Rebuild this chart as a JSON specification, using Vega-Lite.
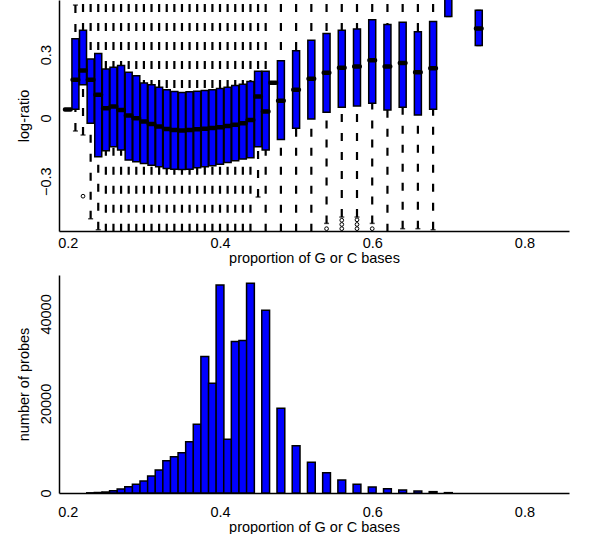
{
  "$schema": "https://vega.github.io/schema/vega-lite/v6.json",
  "background": "white",
  "padding": {"left": 16, "top": 0, "right": 5, "bottom": 0},
  "config": {
    "font": "Liberation Sans",
    "view": {"stroke": null},
    "axis": {
      "labelFont": "Liberation Sans",
      "titleFont": "Liberation Sans",
      "labelFontSize": 14.5,
      "titleFontSize": 14.5,
      "titleFontWeight": "normal",
      "labelColor": "black",
      "titleColor": "black",
      "domainColor": "black",
      "domainWidth": 1.5,
      "ticks": false,
      "grid": false
    }
  },
  "datasets": {
    "boxes": [
      {"gc": 0.20, "lo": 0.04, "q1": 0.04, "med": 0.04, "q3": 0.04, "hi": 0.04},
      {"gc": 0.21, "lo": -0.062, "q1": 0.041, "med": 0.181, "q3": 0.375, "hi": 0.535},
      {"gc": 0.22, "lo": -0.081, "q1": 0.157, "med": 0.225, "q3": 0.416, "hi": 0.72},
      {"gc": 0.23, "lo": -0.478, "q1": -0.025, "med": 0.181, "q3": 0.279, "hi": 0.72},
      {"gc": 0.24, "lo": -0.53, "q1": -0.184, "med": 0.110, "q3": 0.305, "hi": 0.72},
      {"gc": 0.25, "lo": -0.72, "q1": -0.156, "med": 0.046, "q3": 0.232, "hi": 0.72},
      {"gc": 0.26, "lo": -0.72, "q1": -0.137, "med": 0.054, "q3": 0.240, "hi": 0.72},
      {"gc": 0.27, "lo": -0.72, "q1": -0.152, "med": 0.038, "q3": 0.248, "hi": 0.72},
      {"gc": 0.28, "lo": -0.72, "q1": -0.200, "med": 0.011, "q3": 0.216, "hi": 0.72},
      {"gc": 0.29, "lo": -0.72, "q1": -0.208, "med": -0.002, "q3": 0.200, "hi": 0.72},
      {"gc": 0.30, "lo": -0.72, "q1": -0.216, "med": -0.017, "q3": 0.165, "hi": 0.72},
      {"gc": 0.31, "lo": -0.72, "q1": -0.224, "med": -0.029, "q3": 0.157, "hi": 0.72},
      {"gc": 0.32, "lo": -0.72, "q1": -0.232, "med": -0.041, "q3": 0.146, "hi": 0.72},
      {"gc": 0.33, "lo": -0.72, "q1": -0.240, "med": -0.052, "q3": 0.133, "hi": 0.72},
      {"gc": 0.34, "lo": -0.72, "q1": -0.243, "med": -0.057, "q3": 0.125, "hi": 0.72},
      {"gc": 0.35, "lo": -0.72, "q1": -0.244, "med": -0.060, "q3": 0.121, "hi": 0.72},
      {"gc": 0.36, "lo": -0.72, "q1": -0.243, "med": -0.057, "q3": 0.124, "hi": 0.72},
      {"gc": 0.37, "lo": -0.72, "q1": -0.236, "med": -0.054, "q3": 0.127, "hi": 0.72},
      {"gc": 0.38, "lo": -0.72, "q1": -0.232, "med": -0.051, "q3": 0.130, "hi": 0.72},
      {"gc": 0.39, "lo": -0.72, "q1": -0.227, "med": -0.048, "q3": 0.133, "hi": 0.72},
      {"gc": 0.40, "lo": -0.72, "q1": -0.219, "med": -0.044, "q3": 0.140, "hi": 0.72},
      {"gc": 0.41, "lo": -0.72, "q1": -0.211, "med": -0.038, "q3": 0.146, "hi": 0.72},
      {"gc": 0.42, "lo": -0.72, "q1": -0.203, "med": -0.032, "q3": 0.154, "hi": 0.72},
      {"gc": 0.43, "lo": -0.72, "q1": -0.195, "med": -0.025, "q3": 0.160, "hi": 0.72},
      {"gc": 0.44, "lo": -0.72, "q1": -0.189, "med": -0.010, "q3": 0.173, "hi": 0.72},
      {"gc": 0.45, "lo": -0.375, "q1": -0.137, "med": 0.102, "q3": 0.221, "hi": 0.72},
      {"gc": 0.46, "lo": -0.72, "q1": -0.152, "med": 0.030, "q3": 0.221, "hi": 0.72},
      {"gc": 0.47, "lo": 0.167, "q1": 0.167, "med": 0.167, "q3": 0.167, "hi": 0.167},
      {"gc": 0.48, "lo": -0.72, "q1": -0.102, "med": 0.081, "q3": 0.271, "hi": 0.72},
      {"gc": 0.50, "lo": -0.72, "q1": -0.049, "med": 0.133, "q3": 0.319, "hi": 0.72},
      {"gc": 0.52, "lo": -0.72, "q1": -0.005, "med": 0.186, "q3": 0.368, "hi": 0.72},
      {"gc": 0.54, "lo": -0.50, "q1": 0.027, "med": 0.214, "q3": 0.400, "hi": 0.72},
      {"gc": 0.56, "lo": -0.47, "q1": 0.051, "med": 0.238, "q3": 0.416, "hi": 0.72},
      {"gc": 0.58, "lo": -0.47, "q1": 0.057, "med": 0.244, "q3": 0.422, "hi": 0.72},
      {"gc": 0.60, "lo": -0.50, "q1": 0.070, "med": 0.273, "q3": 0.465, "hi": 0.72},
      {"gc": 0.62, "lo": -0.72, "q1": 0.038, "med": 0.244, "q3": 0.443, "hi": 0.72},
      {"gc": 0.64, "lo": -0.525, "q1": 0.051, "med": 0.260, "q3": 0.454, "hi": 0.72},
      {"gc": 0.66, "lo": -0.525, "q1": 0.014, "med": 0.217, "q3": 0.408, "hi": 0.72},
      {"gc": 0.68, "lo": -0.53, "q1": 0.041, "med": 0.236, "q3": 0.457, "hi": 0.72},
      {"gc": 0.70, "lo": 0.481, "q1": 0.481, "med": 0.58, "q3": 0.62, "hi": 0.62},
      {"gc": 0.74, "lo": 0.343, "q1": 0.343, "med": 0.424, "q3": 0.51, "hi": 0.51}
    ],
    "outliers": [
      {"gc": 0.22, "val": -0.371},
      {"gc": 0.54, "val": -0.525},
      {"gc": 0.56, "val": -0.485},
      {"gc": 0.56, "val": -0.505},
      {"gc": 0.56, "val": -0.525},
      {"gc": 0.58, "val": -0.483},
      {"gc": 0.58, "val": -0.505},
      {"gc": 0.58, "val": -0.525},
      {"gc": 0.60, "val": -0.525}
    ],
    "hist": [
      {"gc": 0.23, "n": 40},
      {"gc": 0.24, "n": 110},
      {"gc": 0.25, "n": 220},
      {"gc": 0.26, "n": 520},
      {"gc": 0.27, "n": 900},
      {"gc": 0.28, "n": 1420},
      {"gc": 0.29, "n": 1940},
      {"gc": 0.30, "n": 2680},
      {"gc": 0.31, "n": 3800},
      {"gc": 0.32, "n": 5140},
      {"gc": 0.33, "n": 7230},
      {"gc": 0.34, "n": 8120},
      {"gc": 0.35, "n": 9010},
      {"gc": 0.36, "n": 11470},
      {"gc": 0.37, "n": 15350},
      {"gc": 0.38, "n": 30470},
      {"gc": 0.39, "n": 24510},
      {"gc": 0.40, "n": 46490},
      {"gc": 0.41, "n": 12000},
      {"gc": 0.42, "n": 33820},
      {"gc": 0.43, "n": 34040},
      {"gc": 0.44, "n": 46860},
      {"gc": 0.46, "n": 40830},
      {"gc": 0.48, "n": 18930},
      {"gc": 0.50, "n": 10580},
      {"gc": 0.52, "n": 6850},
      {"gc": 0.54, "n": 4550},
      {"gc": 0.56, "n": 2900},
      {"gc": 0.58, "n": 1940},
      {"gc": 0.60, "n": 1340},
      {"gc": 0.62, "n": 970},
      {"gc": 0.64, "n": 670},
      {"gc": 0.66, "n": 450},
      {"gc": 0.68, "n": 300},
      {"gc": 0.70, "n": 80}
    ]
  },
  "bounds": "flush",
  "spacing": 44,
  "vconcat": [
    {
      "width": 510,
      "height": 231,
      "data": {"name": "boxes"},
      "encoding": {
        "x": {
          "field": "gc",
          "type": "quantitative",
          "scale": {"domain": [0.195, 0.852], "nice": false, "zero": false},
          "axis": {
            "title": "proportion of G or C bases",
            "values": [0.2, 0.4, 0.6, 0.8],
            "format": ".1f",
            "labelPadding": 5,
            "titlePadding": 2,
            "labelFlush": false
          }
        }
      },
      "layer": [
        {
          "mark": {"type": "rule", "color": "black", "strokeWidth": 2.2, "strokeDash": [8, 11], "clip": true},
          "encoding": {
            "y": {
              "field": "hi",
              "type": "quantitative",
              "scale": {"domain": [-0.536, 0.559], "nice": false, "zero": false},
              "axis": {
                "title": "log-ratio",
                "values": [-0.3, 0, 0.3],
                "labelExpr": "datum.value == 0 ? '0' : format(datum.value, '.1f')",
                "labelAngle": 270,
                "labelPadding": 6,
                "titlePadding": 7
              }
            },
            "y2": {"field": "q3"}
          }
        },
        {
          "mark": {"type": "rule", "color": "black", "strokeWidth": 2.2, "strokeDash": [8, 11], "clip": true},
          "encoding": {
            "y": {"field": "lo", "type": "quantitative"},
            "y2": {"field": "q1"}
          }
        },
        {
          "mark": {"type": "tick", "orient": "horizontal", "color": "black", "size": 5, "thickness": 1.5, "clip": true},
          "encoding": {"y": {"field": "hi", "type": "quantitative"}}
        },
        {
          "mark": {"type": "tick", "orient": "horizontal", "color": "black", "size": 5, "thickness": 1.5, "clip": true},
          "encoding": {"y": {"field": "lo", "type": "quantitative"}}
        },
        {
          "mark": {"type": "bar", "size": 7, "fill": "#0000ff", "stroke": "black", "strokeWidth": 1.5, "clip": true},
          "encoding": {
            "y": {"field": "q1", "type": "quantitative"},
            "y2": {"field": "q3"}
          }
        },
        {
          "mark": {"type": "tick", "orient": "horizontal", "color": "black", "size": 10, "thickness": 4.5, "cornerRadius": 2, "opacity": 1, "clip": true},
          "encoding": {"y": {"field": "med", "type": "quantitative"}}
        },
        {
          "data": {"name": "outliers"},
          "mark": {"type": "point", "shape": "circle", "filled": false, "size": 14, "stroke": "black", "strokeWidth": 1, "opacity": 1, "clip": true},
          "encoding": {"y": {"field": "val", "type": "quantitative"}}
        }
      ]
    },
    {
      "width": 510,
      "height": 218,
      "data": {"name": "hist"},
      "mark": {"type": "bar", "size": 7.8, "fill": "#0000ff", "stroke": "black", "strokeWidth": 1.5},
      "encoding": {
        "x": {
          "field": "gc",
          "type": "quantitative",
          "scale": {"domain": [0.195, 0.852], "nice": false, "zero": false},
          "axis": {
            "title": "proportion of G or C bases",
            "values": [0.2, 0.4, 0.6, 0.8],
            "format": ".1f",
            "labelPadding": 12,
            "titlePadding": 2,
            "labelFlush": false
          }
        },
        "y": {
          "field": "n",
          "type": "quantitative",
          "scale": {"domain": [0, 48700], "nice": false},
          "axis": {
            "title": "number of probes",
            "values": [0, 20000, 40000],
            "format": "d",
            "labelAngle": 270,
            "labelPadding": 6,
            "titlePadding": 7
          }
        }
      }
    }
  ]
}
